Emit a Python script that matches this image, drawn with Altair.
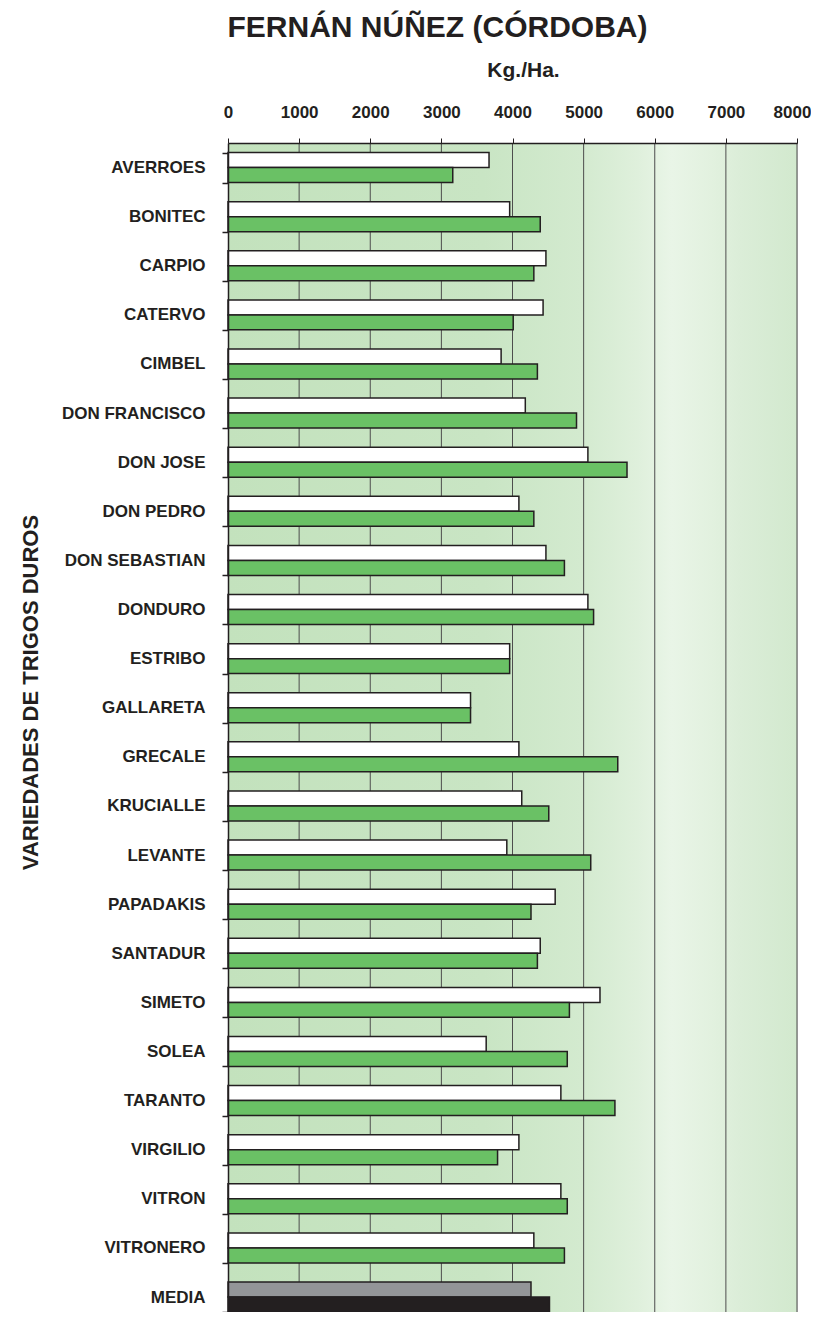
import altair as alt
import pandas as pd

varieties = ["AVERROES", "BONITEC", "CARPIO", "CATERVO", "CIMBEL", "DON FRANCISCO",
             "DON JOSE", "DON PEDRO", "DON SEBASTIAN", "DONDURO", "ESTRIBO", "GALLARETA",
             "GRECALE", "KRUCIALLE", "LEVANTE", "PAPADAKIS", "SANTADUR", "SIMETO",
             "SOLEA", "TARANTO", "VIRGILIO", "VITRON", "VITRONERO", "MEDIA"]
series_1 = [3670, 3960, 4470, 4430, 3840, 4180, 5060, 4090, 4470, 5060, 3960, 3410,
            4090, 4130, 3920, 4600, 4390, 5230, 3630, 4680, 4090, 4680, 4300, 4260]
series_2 = [3160, 4390, 4300, 4010, 4350, 4900, 5610, 4300, 4730, 5140, 3960, 3410,
            5480, 4510, 5100, 4260, 4350, 4800, 4770, 5440, 3790, 4770, 4730, 4520]
x_ticks = [0, 1000, 2000, 3000, 4000, 5000, 6000, 7000, 8000]

rows = []
for v, a, b in zip(varieties, series_1, series_2):
    ka = "media_1" if v == "MEDIA" else "s1"
    kb = "media_2" if v == "MEDIA" else "s2"
    rows.append({"variedad": v, "serie": "1", "clave": ka, "valor": a})
    rows.append({"variedad": v, "serie": "2", "clave": kb, "valor": b})
df = pd.DataFrame(rows)
grid_df = pd.DataFrame({"g": x_ticks[1:]})

W = 569
H = 1169
FONT = "Liberation Sans, Arial, Helvetica, sans-serif"
INK = "#231f20"

xscale = alt.Scale(domain=[0, 8000], nice=False, zero=True)
yscale = alt.Scale(domain=varieties, paddingInner=0.39, paddingOuter=0.0975, align=1)

gradient = alt.Gradient(
    gradient="linear",
    stops=[
        alt.GradientStop(color="#c3e2bd", offset=0),
        alt.GradientStop(color="#c9e5c4", offset=0.45),
        alt.GradientStop(color="#d3eacf", offset=0.62),
        alt.GradientStop(color="#dff0dc", offset=0.72),
        alt.GradientStop(color="#e9f5e7", offset=0.78),
        alt.GradientStop(color="#e2f1df", offset=0.85),
        alt.GradientStop(color="#dbedd8", offset=0.9),
        alt.GradientStop(color="#d2e9ce", offset=1),
    ],
    x1=0, x2=1, y1=0, y2=0,
)

bg = alt.Chart(pd.DataFrame({"a": [0]})).mark_rect(color=gradient).encode(
    x=alt.datum(0, scale=xscale),
    x2=alt.datum(8000),
    y=alt.value(0),
    y2=alt.value(H),
)

grid = alt.Chart(grid_df).mark_rule(color="#4d4d4d", strokeWidth=1).encode(
    x=alt.X("g:Q", scale=xscale),
    y=alt.value(0),
    y2=alt.value(H),
)

bars = alt.Chart(df).mark_bar(stroke=INK, strokeWidth=1.5, cornerRadius=0).encode(
    x=alt.X(
        "valor:Q",
        scale=xscale,
        axis=alt.Axis(
            orient="top", values=x_ticks, format="d", grid=False, zindex=1,
            domainColor=INK, domainWidth=1.5, tickColor=INK, tickSize=5, tickWidth=1,
            labelFont=FONT, labelFontSize=17, labelFontWeight="bold", labelColor=INK,
            labelPadding=17, labelFlush=False,
            labelOffset={"condition": {"test": "datum.value == 8000", "value": -5}, "value": 0},
            title="Kg./Ha.", titleFont=FONT, titleFontSize=21, titleFontWeight="bold",
            titleColor=INK, titleX=295, titleY=-73, titleAlign="center",
            titleBaseline="middle",
        ),
    ),
    y=alt.Y(
        "variedad:N",
        scale=yscale,
        sort=varieties,
        axis=alt.Axis(
            tickBand="extent", zindex=1,
            domainColor=INK, domainWidth=1.5, tickColor=INK, tickSize=6, tickWidth=1.5,
            labelFont=FONT, labelFontSize=17, labelFontWeight="bold", labelColor=INK,
            labelPadding=17,
            title="VARIEDADES DE TRIGOS DUROS", titleFont=FONT, titleFontSize=22,
            titleFontWeight="bold", titleColor=INK, titleAngle=270,
            titleX=-198, titleY=549, titleAlign="center", titleBaseline="middle",
        ),
    ),
    yOffset=alt.YOffset("serie:N", scale=alt.Scale(paddingInner=0, paddingOuter=0)),
    color=alt.Color(
        "clave:N",
        scale=alt.Scale(domain=["s1", "s2", "media_1", "media_2"],
                        range=["#ffffff", "#6ac165", "#939598", "#231f20"]),
        legend=None,
    ),
)

chart = alt.layer(bg, grid, bars).properties(
    width=W,
    height=H,
    title=alt.TitleParams(
        "FERNÁN NÚÑEZ (CÓRDOBA)", font=FONT, fontSize=30, fontWeight="bold",
        color=INK, anchor="middle", frame="group", dx=-75, offset=16,
    ),
    padding={"left": 220, "top": 135, "right": 14, "bottom": 0},
    autosize=alt.AutoSizeParams(type="none"),
).configure_view(stroke=None).configure(background="white")

chart.save("out.html", embed_options={"renderer": "svg", "actions": False})
